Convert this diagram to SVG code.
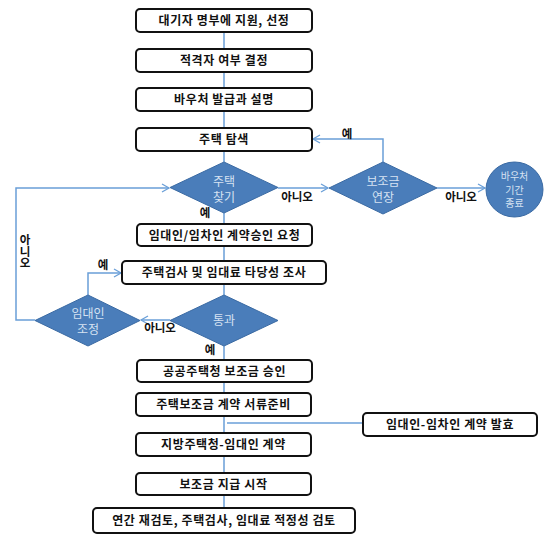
<svg xmlns="http://www.w3.org/2000/svg" width="556" height="535" viewBox="0 0 556 535">
<defs>
<style>
.box{fill:#fff;stroke:#111;stroke-width:2}
.bt{font-family:"Noto Sans CJK KR","Noto Sans",sans-serif;font-size:12px;font-weight:bold;fill:#111;text-anchor:middle;letter-spacing:0.6px}
.dia{fill:#4a7dba;stroke:#3a6aa3;stroke-width:1}
.dt{font-family:"Noto Sans CJK KR","Noto Sans",sans-serif;font-size:12px;fill:#d6e2f2;text-anchor:middle}
.lbl{font-family:"Noto Sans CJK KR","Noto Sans",sans-serif;font-size:11.5px;font-weight:bold;fill:#111;text-anchor:middle}
.c{fill:none;stroke:#6a9fd8;stroke-width:1.5}
</style>
<marker id="ah" markerWidth="10" markerHeight="10" refX="8" refY="5" orient="auto" markerUnits="userSpaceOnUse">
<path d="M1,1 L8,5 L1,9" fill="none" stroke="#6a9fd8" stroke-width="1.3"/>
</marker>
</defs>
<rect width="556" height="535" fill="#fff"/>
<g id="connectors">
<path class="c" d="M224,32 V49 M224,72 V88 M224,111 V128 M224,151 V162 M224,213 V224 M224,246 V261 M224,284 V295 M224,346 V360 M224,382 V393 M224,416 V433 M224,456 V473 M224,495 V508"/>
<path class="c" d="M383,162 V139 H313" marker-end="url(#ah)"/>
<path class="c" d="M278,188 H328" marker-end="url(#ah)"/>
<path class="c" d="M437,188 H485" marker-end="url(#ah)"/>
<path class="c" d="M35,320 H16 V188 H169" marker-end="url(#ah)"/>
<path class="c" d="M88,295 V273 H121" marker-end="url(#ah)"/>
<path class="c" d="M170,320 H141" marker-end="url(#ah)"/>
<path class="c" d="M227,423 H363"/>
<text class="lbl" x="347" y="138">예</text>
<text class="lbl" x="297" y="201">아니오</text>
<text class="lbl" x="461" y="201">아니오</text>
<text class="lbl" x="205" y="217">예</text>
<text class="lbl" x="103" y="269">예</text>
<text class="lbl" x="160" y="332">아니오</text>
<text class="lbl" x="210" y="354">예</text>
<text class="lbl" x="25" y="234" writing-mode="vertical-rl" style="text-orientation:upright;text-anchor:start">아니오</text>
</g>
<g id="n1"><rect class="box" x="136" y="9" width="176" height="23" rx="4"/><text class="bt" x="224" y="25">대기자 명부에 지원, 선정</text></g>
<g id="n2"><rect class="box" x="136" y="49" width="176" height="23" rx="4"/><text class="bt" x="224" y="65">적격자 여부 결정</text></g>
<g id="n3"><rect class="box" x="136" y="88" width="176" height="23" rx="4"/><text class="bt" x="224" y="104">바우처 발급과 설명</text></g>
<g id="n4"><rect class="box" x="136" y="128" width="176" height="23" rx="4"/><text class="bt" x="224" y="144">주택 탐색</text></g>
<g id="d1"><polygon class="dia" points="224,162 278,187.5 224,213 170,187.5"/><text class="dt" x="224" y="185.5">주택</text><text class="dt" x="224" y="201.5">찾기</text></g>
<g id="d2"><polygon class="dia" points="383,162 437,188 383,214 329,188"/><text class="dt" x="383" y="186">보조금</text><text class="dt" x="383" y="202">연장</text></g>
<g id="e1"><ellipse cx="514.5" cy="189.5" rx="28.5" ry="27.5" fill="#4a7dba" stroke="#3a6aa3"/><text class="dt" style="font-size:10px" x="514.5" y="180">바우처</text><text class="dt" style="font-size:10px" x="514.5" y="193.5">기간</text><text class="dt" style="font-size:10px" x="514.5" y="207">종료</text></g>
<g id="n5"><rect class="box" x="137" y="224" width="175" height="22" rx="4"/><text class="bt" x="224.5" y="240">임대인/임차인 계약승인 요청</text></g>
<g id="n6"><rect class="box" x="122" y="261" width="204" height="23" rx="4"/><text class="bt" x="224" y="277">주택검사 및 임대료 타당성 조사</text></g>
<g id="d3"><polygon class="dia" points="88,295 140,320.5 88,346 35,320.5"/><text class="dt" x="88" y="318">임대인</text><text class="dt" x="88" y="334">조정</text></g>
<g id="d4"><polygon class="dia" points="224,295 278,320.5 224,346 170,320.5"/><text class="dt" x="224" y="325">통과</text></g>
<g id="n7"><rect class="box" x="137" y="360" width="175" height="22" rx="4"/><text class="bt" x="224.5" y="376">공공주택청 보조금 승인</text></g>
<g id="n8"><rect class="box" x="136" y="393" width="175" height="23" rx="4"/><text class="bt" x="223.5" y="409">주택보조금 계약 서류준비</text></g>
<g id="n9"><rect class="box" x="136" y="433" width="175" height="23" rx="4"/><text class="bt" x="223.5" y="449">지방주택청-임대인 계약</text></g>
<g id="n10"><rect class="box" x="136" y="473" width="175" height="22" rx="4"/><text class="bt" x="223.5" y="489">보조금 지급 시작</text></g>
<g id="n11"><rect class="box" x="93" y="508" width="262" height="25" rx="4"/><text class="bt" x="224" y="525">연간 재검토, 주택검사, 임대료 적정성 검토</text></g>
<g id="n12"><rect class="box" x="363" y="413" width="174" height="23" rx="4"/><text class="bt" x="450" y="429">임대인-임차인 계약 발효</text></g>
</svg>
